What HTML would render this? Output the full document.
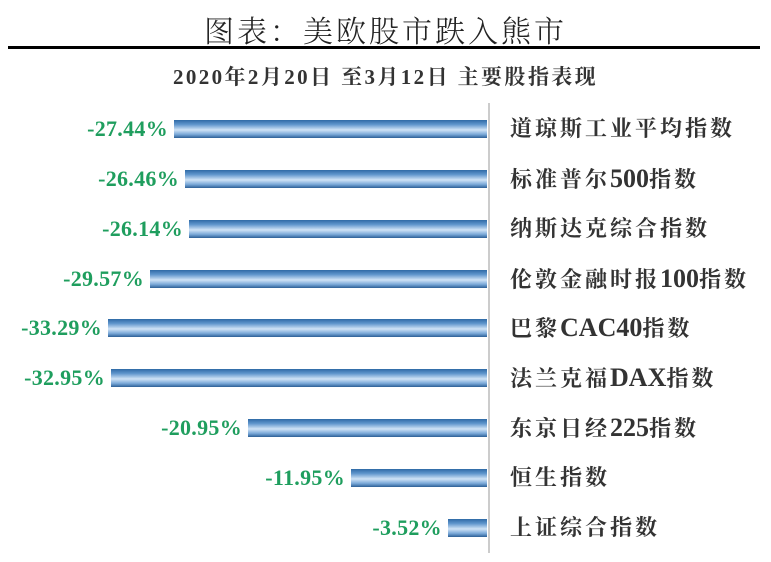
<!DOCTYPE html>
<html><head><meta charset="utf-8"><style>
body{margin:0;width:771px;height:562px;background:#fff;position:relative;overflow:hidden;font-family:"Liberation Serif","Noto Serif CJK SC",serif}
.t{position:absolute;left:0;width:771px;text-align:center;top:7px;font-size:30px;color:#222;letter-spacing:3px;font-weight:300}
.hl{position:absolute;left:8px;width:752px;top:46px;height:3px;background:#000}
.st{position:absolute;left:0;width:771px;text-align:center;top:61px;font-size:21px;font-weight:bold;color:#333;letter-spacing:2.4px}
.ax{position:absolute;left:488px;top:103px;width:2px;height:450px;background:#ccc}
.bar{position:absolute;height:18px;background:linear-gradient(#2f6aa6 0%,#5f95cc 25%,#cfe3f6 55%,#7aa8d8 80%,#2c5f96 100%)}
.v{position:absolute;width:200px;text-align:right;font-size:22px;font-weight:bold;color:#1f9e5e;line-height:20px;letter-spacing:0.3px}
.l{position:absolute;left:510px;font-size:22px;font-weight:bold;color:#333;line-height:26px;white-space:nowrap;letter-spacing:3px}
.l b{font-size:26px;letter-spacing:0}
</style></head><body>
<div class="t">图表：美欧股市跌入熊市</div>
<div class="hl"></div>
<div class="st">2020年2月20日 至3月12日 主要股指表现</div>
<div class="ax"></div>
<div class="bar" style="left:174px;width:313px;top:120px"></div><div class="v" style="left:-32px;top:119px">-27.44%</div><div class="l" style="top:116px">道琼斯工业平均指数</div>
<div class="bar" style="left:185px;width:302px;top:170px"></div><div class="v" style="left:-21px;top:169px">-26.46%</div><div class="l" style="top:166px">标准普尔<b>500</b>指数</div>
<div class="bar" style="left:189px;width:298px;top:220px"></div><div class="v" style="left:-17px;top:219px">-26.14%</div><div class="l" style="top:216px">纳斯达克综合指数</div>
<div class="bar" style="left:150px;width:337px;top:270px"></div><div class="v" style="left:-56px;top:269px">-29.57%</div><div class="l" style="top:266px">伦敦金融时报<b>100</b>指数</div>
<div class="bar" style="left:108px;width:379px;top:319px"></div><div class="v" style="left:-98px;top:318px">-33.29%</div><div class="l" style="top:315px">巴黎<b>CAC40</b>指数</div>
<div class="bar" style="left:111px;width:376px;top:369px"></div><div class="v" style="left:-95px;top:368px">-32.95%</div><div class="l" style="top:365px">法兰克福<b>DAX</b>指数</div>
<div class="bar" style="left:248px;width:239px;top:419px"></div><div class="v" style="left:42px;top:418px">-20.95%</div><div class="l" style="top:415px">东京日经<b>225</b>指数</div>
<div class="bar" style="left:351px;width:136px;top:469px"></div><div class="v" style="left:145px;top:468px">-11.95%</div><div class="l" style="top:465px">恒生指数</div>
<div class="bar" style="left:448px;width:39px;top:519px"></div><div class="v" style="left:242px;top:518px">-3.52%</div><div class="l" style="top:515px">上证综合指数</div>
</body></html>
